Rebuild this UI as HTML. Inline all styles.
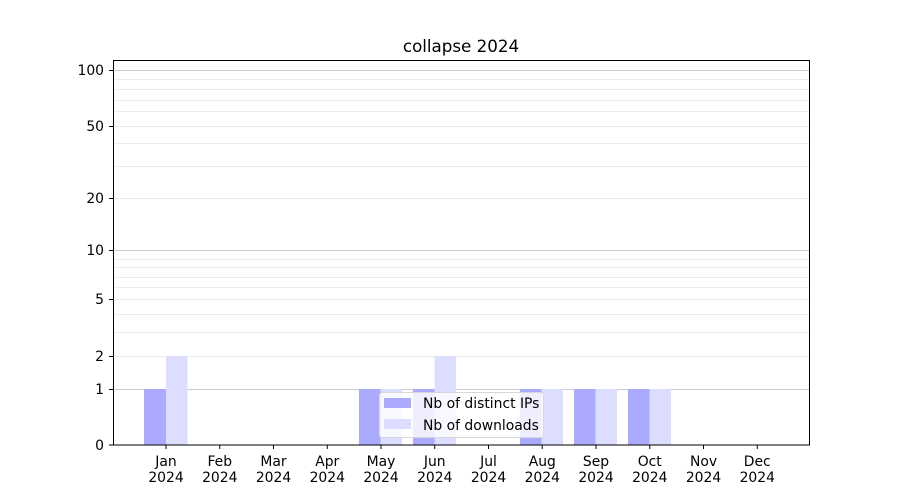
<!DOCTYPE html>
<html><head><meta charset="utf-8"><style>body{margin:0;background:#fff}svg{display:block}text{font-family:"DejaVu Sans","Liberation Sans",sans-serif;font-size:13.9px;fill:#000}</style></head>
<body>
<svg width="900" height="500" xmlns="http://www.w3.org/2000/svg">
<rect width="900" height="500" fill="#fff"/>
<text x="461" y="52" text-anchor="middle" style="font-size:16.7px">collapse 2024</text>
<g stroke="#ebebeb" stroke-width="1">
<line x1="113" x2="810" y1="356.5" y2="356.5"/><line x1="113" x2="810" y1="332.5" y2="332.5"/><line x1="113" x2="810" y1="314.5" y2="314.5"/><line x1="113" x2="810" y1="299.5" y2="299.5"/><line x1="113" x2="810" y1="287.5" y2="287.5"/><line x1="113" x2="810" y1="277.5" y2="277.5"/><line x1="113" x2="810" y1="267.5" y2="267.5"/><line x1="113" x2="810" y1="259.5" y2="259.5"/><line x1="113" x2="810" y1="198.5" y2="198.5"/><line x1="113" x2="810" y1="166.5" y2="166.5"/><line x1="113" x2="810" y1="143.5" y2="143.5"/><line x1="113" x2="810" y1="126.5" y2="126.5"/><line x1="113" x2="810" y1="111.5" y2="111.5"/><line x1="113" x2="810" y1="100.5" y2="100.5"/><line x1="113" x2="810" y1="89.5" y2="89.5"/><line x1="113" x2="810" y1="79.5" y2="79.5"/>
</g>
<g stroke="#cccccc" stroke-width="1">
<line x1="113" x2="810" y1="389.5" y2="389.5"/><line x1="113" x2="810" y1="250.5" y2="250.5"/><line x1="113" x2="810" y1="70.5" y2="70.5"/>
</g>
<g>
<rect x="144" y="389" width="22" height="56" fill="#aaaaff"/><rect x="166" y="356" width="21.5" height="89" fill="#ddddff"/>
<rect x="359" y="389" width="21.5" height="56" fill="#aaaaff"/><rect x="380.5" y="389" width="21.5" height="56" fill="#ddddff"/>
<rect x="413" y="389" width="21.5" height="56" fill="#aaaaff"/><rect x="434.5" y="356" width="21.5" height="89" fill="#ddddff"/>
<rect x="520" y="389" width="21.5" height="56" fill="#aaaaff"/><rect x="541.5" y="389" width="21.5" height="56" fill="#ddddff"/>
<rect x="574" y="389" width="21.5" height="56" fill="#aaaaff"/><rect x="595.5" y="389" width="21.5" height="56" fill="#ddddff"/>
<rect x="628" y="389" width="21.5" height="56" fill="#aaaaff"/><rect x="649.5" y="389" width="21.5" height="56" fill="#ddddff"/>
</g>
<rect x="379.5" y="392.5" width="164" height="45" rx="3" fill="#fff" fill-opacity="0.8" stroke="#d8d8d8"/>
<rect x="384" y="398" width="27" height="10" fill="#aaaaff"/>
<rect x="384" y="419" width="27" height="10" fill="#ddddff"/>
<text x="423" y="408">Nb of distinct IPs</text>
<text x="423" y="430">Nb of downloads</text>
<rect x="113.5" y="60.5" width="696" height="384.5" fill="none" stroke="#000" stroke-width="1"/>
<g stroke="#000">
<line x1="109" x2="113" y1="445" y2="445"/><line x1="109" x2="113" y1="389.5" y2="389.5"/><line x1="109" x2="113" y1="356.5" y2="356.5"/><line x1="109" x2="113" y1="299.5" y2="299.5"/><line x1="109" x2="113" y1="250.5" y2="250.5"/><line x1="109" x2="113" y1="198.5" y2="198.5"/><line x1="109" x2="113" y1="126.5" y2="126.5"/><line x1="109" x2="113" y1="70.5" y2="70.5"/>
</g>
<g text-anchor="end">
<text x="104" y="450">0</text><text x="104" y="394">1</text><text x="104" y="361">2</text><text x="104" y="304">5</text><text x="104" y="255">10</text><text x="104" y="203">20</text><text x="104" y="131">50</text><text x="104" y="75">100</text>
</g>
<g stroke="#000">
<line x1="166" x2="166" y1="445" y2="449"/><line x1="219.75" x2="219.75" y1="445" y2="449"/><line x1="273.5" x2="273.5" y1="445" y2="449"/><line x1="327.25" x2="327.25" y1="445" y2="449"/><line x1="381" x2="381" y1="445" y2="449"/><line x1="434.75" x2="434.75" y1="445" y2="449"/><line x1="488.5" x2="488.5" y1="445" y2="449"/><line x1="542.25" x2="542.25" y1="445" y2="449"/><line x1="596" x2="596" y1="445" y2="449"/><line x1="649.75" x2="649.75" y1="445" y2="449"/><line x1="703.5" x2="703.5" y1="445" y2="449"/><line x1="757.25" x2="757.25" y1="445" y2="449"/>
</g>
<g text-anchor="middle">
<text x="166" y="466">Jan</text><text x="166" y="482">2024</text>
<text x="219.75" y="466">Feb</text><text x="219.75" y="482">2024</text>
<text x="273.5" y="466">Mar</text><text x="273.5" y="482">2024</text>
<text x="327.25" y="466">Apr</text><text x="327.25" y="482">2024</text>
<text x="381" y="466">May</text><text x="381" y="482">2024</text>
<text x="434.75" y="466">Jun</text><text x="434.75" y="482">2024</text>
<text x="488.5" y="466">Jul</text><text x="488.5" y="482">2024</text>
<text x="542.25" y="466">Aug</text><text x="542.25" y="482">2024</text>
<text x="596" y="466">Sep</text><text x="596" y="482">2024</text>
<text x="649.75" y="466">Oct</text><text x="649.75" y="482">2024</text>
<text x="703.5" y="466">Nov</text><text x="703.5" y="482">2024</text>
<text x="757.25" y="466">Dec</text><text x="757.25" y="482">2024</text>
</g>
</svg>
</body></html>
